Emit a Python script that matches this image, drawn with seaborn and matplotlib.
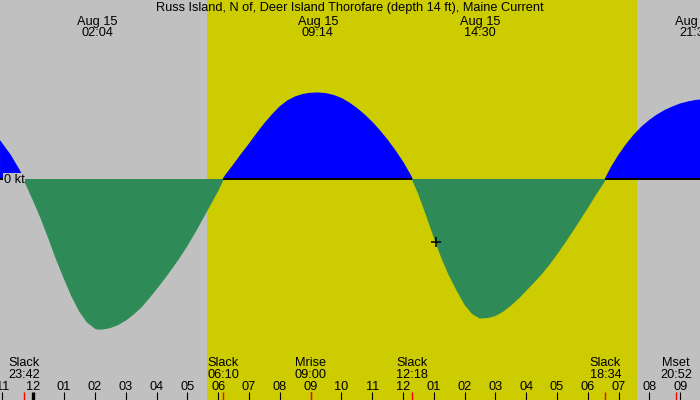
import matplotlib
matplotlib.use("Agg")
import matplotlib.pyplot as plt
import matplotlib.transforms as mtransforms
import numpy as np
import pandas as pd
import seaborn as sns

# tidal current, hours from midnight Aug 15 (negative = Aug 14)
hours = [-1.08, -1.0, -0.75, -0.5, -0.3,
         -0.25, 0.0, 0.25, 0.5, 0.75, 1.0, 1.25, 1.5, 1.75, 2.0, 2.067, 2.25, 2.5, 2.75,
         3.0, 3.25, 3.5, 3.75, 4.0, 4.25, 4.5, 4.75, 5.0, 5.25, 5.5, 5.75, 6.0, 6.167,
         6.25, 6.5, 6.75, 7.0, 7.25, 7.5, 7.75, 8.0, 8.25, 8.5, 8.75, 9.0, 9.233, 9.5,
         9.75, 10.0, 10.25, 10.5, 10.75, 11.0, 11.25, 11.5, 11.75, 12.0, 12.25, 12.3,
         12.5, 12.75, 13.0, 13.25, 13.5, 13.75, 14.0, 14.25, 14.5, 14.75, 15.0, 15.25,
         15.5, 15.75, 16.0, 16.25, 16.5, 16.75, 17.0, 17.25, 17.5, 17.75, 18.0, 18.25,
         18.5, 18.567,
         18.75, 19.0, 19.25, 19.5, 19.75, 20.0, 20.25, 20.5, 20.75, 21.0, 21.25, 21.5, 21.65]
kt = [0.38, 0.345, 0.24, 0.11, 0.0,
      -0.04, -0.21, -0.39, -0.59, -0.80, -0.99, -1.17, -1.32, -1.43, -1.49, -1.50, -1.50,
      -1.485, -1.455, -1.41, -1.35, -1.28, -1.19, -1.095, -0.995, -0.89, -0.78, -0.66,
      -0.53, -0.39, -0.25, -0.11, 0.0,
      0.04, 0.14, 0.245, 0.345, 0.45, 0.55, 0.64, 0.72, 0.78, 0.82, 0.845, 0.857, 0.86,
      0.853, 0.835, 0.805, 0.76, 0.705, 0.64, 0.565, 0.48, 0.385, 0.28, 0.165, 0.03, 0.0,
      -0.14, -0.35, -0.57, -0.78, -0.96, -1.11, -1.25, -1.345, -1.39, -1.385, -1.365,
      -1.32, -1.26, -1.19, -1.11, -1.03, -0.945, -0.85, -0.745, -0.635, -0.52, -0.40,
      -0.28, -0.155, -0.04, 0.0,
      0.11, 0.235, 0.345, 0.44, 0.52, 0.585, 0.64, 0.685, 0.72, 0.75, 0.77, 0.785, 0.79]

sunrise = 5.64
sunset = 19.59

peak_hours = [2.067, 9.233, 14.5, 21.5]
peak_clock = ["02:04", "09:14", "14:30", "21:30"]
peak_date = "Aug 15"

event_names = ["Slack", "Slack", "Mrise", "Slack", "Slack", "Mset"]
event_clock = ["23:42", "06:10", "09:00", "12:18", "18:34", "20:52"]
event_day = [-1, 0, 0, 0, 0, 0]

now_hour = 13.07
now_kt = -0.63

tick_hours = list(range(-1, 22))
tick_labels = ["%02d" % ((h - 1) % 12 + 1) for h in tick_hours]

title = "Russ Island, N of, Deer Island Thorofare (depth 14 ft), Maine Current"

GRAY = "#c0c0c0"
YELLOW = "#cccc00"
BLUE = "#0000ff"
GREEN = "#2e8b57"
FS = 9.2

sns.set_style("white")
plt.rcParams["font.family"] = ["Liberation Sans", "DejaVu Sans"]
plt.rcParams["text.color"] = "black"
plt.rcParams["xtick.color"] = "black"

# split the series into flood/ebb periods at each slack
rows = []
period = 0
for h, v in zip(hours, kt):
    rows.append((h, v, period))
    if v == 0:
        period += 1
        rows.append((h, v, period))
df = pd.DataFrame(rows, columns=["hour", "kt", "period"])
df["phase"] = df.groupby("period")["kt"].transform(lambda s: "flood" if s.sum() > 0 else "ebb")

fig = plt.figure(figsize=(7, 4), dpi=100)
ax = fig.add_axes([0, 0, 1, 1])
ax.set_facecolor(GRAY)
ax.set_xlim(-1.081, 21.64)
ax.set_ylim(-2.21, 1.79)

ax.axvspan(sunrise, sunset, color=YELLOW, lw=0, zorder=0)

h = np.array(hours)
v = np.array(kt)
ax.fill_between(h, v, 0, where=v >= 0, interpolate=True, color=BLUE, lw=0, zorder=2)
ax.fill_between(h, v, 0, where=v <= 0, interpolate=True, color=GREEN, lw=0, zorder=2)
sns.lineplot(data=df, x="hour", y="kt", hue="phase", units="period", estimator=None,
             sort=False, palette={"flood": BLUE, "ebb": GREEN}, legend=False,
             lw=0.8, ax=ax, zorder=2)

for p, g in df[df["phase"] == "flood"].groupby("period"):
    ax.hlines(0, g["hour"].min(), g["hour"].max(), color="black", lw=1.4, zorder=3)

ax.plot([now_hour], [now_kt], marker="+", color="black", ms=7, mew=1.1, zorder=5)

ylab = mtransforms.blended_transform_factory(ax.transAxes, ax.transData)
ax.text(0.005, -0.01, "0 kt", transform=ylab, ha="left", va="center", fontsize=FS,
        zorder=4, bbox=dict(facecolor=GRAY, edgecolor="none", pad=0.5))

xt = ax.get_xaxis_transform()
fig.text(0.5, 1 - 8.5 / 400, title, ha="center", va="center", fontsize=FS)
for ph, clk in zip(peak_hours, peak_clock):
    ax.text(ph, 1 - 21.5 / 400, peak_date, transform=xt, ha="center", va="center", fontsize=FS)
    ax.text(ph, 1 - 32.5 / 400, clk, transform=xt, ha="center", va="center", fontsize=FS)

event_hours = []
for name, clk, day in zip(event_names, event_clock, event_day):
    hh, mm = clk.split(":")
    eh = int(hh) + int(mm) / 60 + 24 * day
    event_hours.append(eh)
    ax.text(eh, 1 - 363.5 / 400, name, transform=xt, ha="center", va="center", fontsize=FS)
    ax.text(eh, 1 - 374.5 / 400, clk, transform=xt, ha="center", va="center", fontsize=FS)
ax.vlines(event_hours, 0, 8 / 400, transform=xt, color="red", lw=1, zorder=6)

ax.set_yticks([])
ax.set_xticks(tick_hours)
ax.set_xticklabels(tick_labels)
ax.tick_params(axis="x", direction="in", length=5.8, width=0.8, color="black",
               pad=-9.7, labelsize=FS, bottom=True)
for lbl in ax.get_xticklabels():
    lbl.set_va("center")
for tk, th in zip(ax.xaxis.get_major_ticks(), tick_hours):
    if th == 0:
        tk.tick1line.set_markeredgewidth(2.4)
ax.set_xlabel("")
ax.set_ylabel("")
for s in ax.spines.values():
    s.set_visible(False)

fig.savefig("out.png", dpi=100)
